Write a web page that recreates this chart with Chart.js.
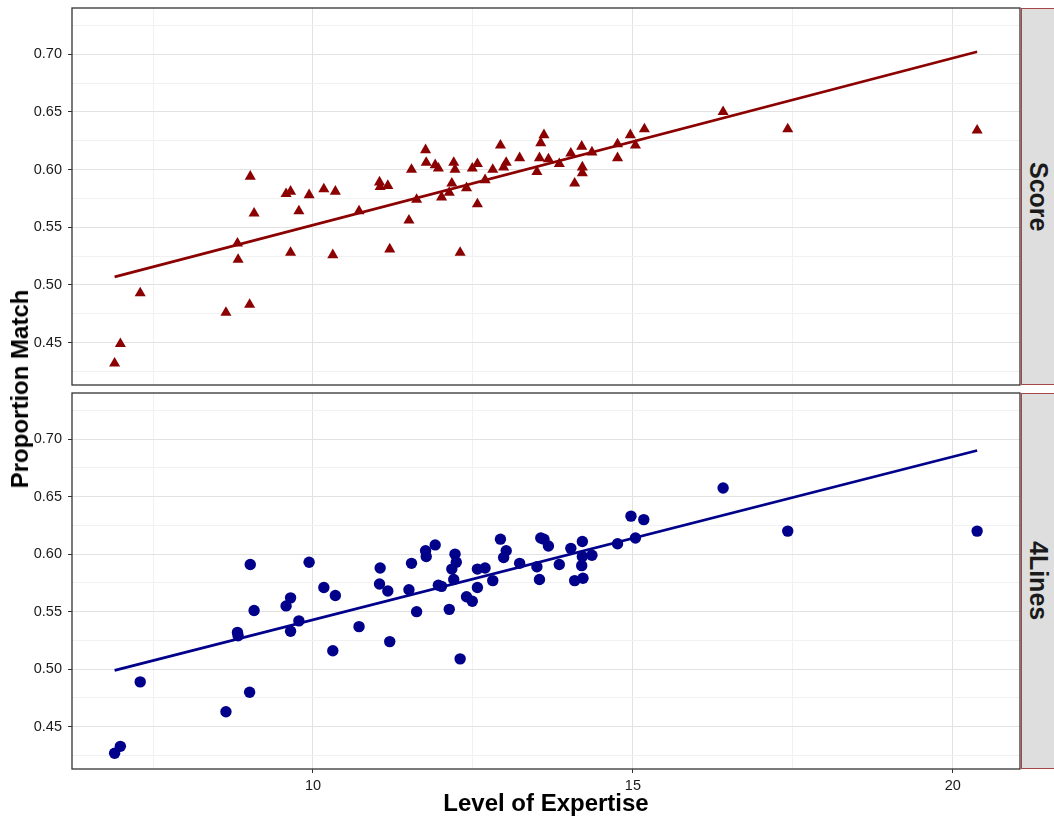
<!DOCTYPE html>
<html>
<head>
<meta charset="utf-8">
<script src="https://cdn.jsdelivr.net/npm/chart.js@4/dist/chart.umd.min.js"></script>
<style>
html,body{margin:0;padding:0;background:#fff;width:1054px;height:819px;overflow:hidden;font-family:"Liberation Sans",Arial,sans-serif;}
.cv{position:absolute;left:0;}
.strip{position:absolute;left:1021px;width:34px;background:#dedede;border:1px solid rgba(150,20,20,0.75);box-sizing:border-box;display:flex;align-items:center;justify-content:center;}
.strip span{writing-mode:vertical-rl;font-weight:bold;font-size:25px;color:#1a1a1a;}
#ytitle{position:absolute;left:20px;top:389px;transform:translate(-50%,-50%) rotate(-90deg);font-weight:bold;font-size:24px;white-space:nowrap;color:#000;}
</style>
</head>
<body>
<div class="cv" style="top:0px;width:1022px;height:386px;"><canvas id="top" width="1022" height="386"></canvas></div>
<div class="cv" style="top:386px;width:1022px;height:433px;"><canvas id="bottom" width="1022" height="433"></canvas></div>
<div class="strip" style="top:8px;height:377px;"><span>Score</span></div>
<div class="strip" style="top:393px;height:376px;"><span>4Lines</span></div>
<div id="ytitle">Proportion Match</div>
<script>
// ---- data ----
const panelNames = ["Score", "4Lines"];
const xTitle = "Level of Expertise";
const yTitle = "Proportion Match";

const scoreX = [6.90, 6.99, 7.30, 8.64, 9.01, 9.02, 9.08, 8.82, 8.83, 9.58, 9.65, 9.65, 9.78, 9.94, 10.17, 10.35, 10.31, 10.72,
  11.04, 11.05, 11.17, 11.20, 11.50, 11.54, 11.62, 11.76, 11.77, 11.91, 11.96, 12.01, 12.13, 12.17, 12.20, 12.22, 12.30,
  12.40, 12.49, 12.57, 12.57, 12.69, 12.81, 12.93, 12.98, 13.02, 13.23, 13.50, 13.54, 13.56, 13.61, 13.68, 13.85, 14.03,
  14.09, 14.20, 14.21, 14.21, 14.36, 14.76, 14.76, 14.96, 15.04, 15.18, 16.41, 17.42, 20.38];
const scoreY = [0.432, 0.449, 0.493, 0.476, 0.483, 0.594, 0.562, 0.536, 0.522, 0.579, 0.581, 0.528, 0.564, 0.578, 0.583, 0.581, 0.526, 0.564,
  0.589, 0.585, 0.586, 0.531, 0.556, 0.600, 0.574, 0.617, 0.606, 0.604, 0.601, 0.576, 0.580, 0.588, 0.606, 0.600, 0.528,
  0.584, 0.601, 0.570, 0.605, 0.591, 0.600, 0.621, 0.602, 0.606, 0.610, 0.598, 0.610, 0.623, 0.630, 0.609, 0.605, 0.614,
  0.588, 0.620, 0.602, 0.597, 0.615, 0.622, 0.610, 0.630, 0.621, 0.635, 0.650, 0.635, 0.634];

const linesX = [6.90, 6.99, 7.30, 8.64, 9.01, 9.02, 9.08, 8.82, 8.83, 9.58, 9.65, 9.65, 9.78, 9.94, 10.17, 10.35, 10.31, 10.72,
  11.05, 11.04, 11.17, 11.20, 11.62, 11.50, 11.54, 11.76, 11.77, 11.91, 11.96, 12.01, 12.13, 12.30, 12.20, 12.17, 12.24, 12.22,
  12.40, 12.49, 12.57, 12.57, 12.69, 12.81, 12.93, 13.02, 12.98, 13.23, 13.50, 13.54, 13.56, 13.61, 13.68, 13.85, 14.03,
  14.09, 14.22, 14.21, 14.21, 14.20, 14.36, 14.76, 14.97, 15.17, 15.04, 16.41, 17.42, 20.38];
const linesY = [0.427, 0.433, 0.489, 0.463, 0.480, 0.591, 0.551, 0.532, 0.529, 0.555, 0.562, 0.533, 0.542, 0.593, 0.571, 0.564, 0.516, 0.537,
  0.588, 0.574, 0.568, 0.524, 0.550, 0.569, 0.592, 0.603, 0.598, 0.608, 0.573, 0.572, 0.552, 0.509, 0.578, 0.587, 0.593, 0.600,
  0.563, 0.559, 0.571, 0.587, 0.588, 0.577, 0.613, 0.603, 0.597, 0.592, 0.589, 0.578, 0.614, 0.613, 0.607, 0.591, 0.605,
  0.577, 0.579, 0.611, 0.598, 0.590, 0.599, 0.609, 0.633, 0.630, 0.614, 0.6575, 0.620, 0.620];

// fitted regression lines (endpoints)
const scoreFitX = [6.90, 20.38];
const scoreFitY = [0.507, 0.702];
const linesFitX = [6.90, 20.38];
const linesFitY = [0.499, 0.690];

const xTickValues = [7.5, 10, 12.5, 15, 17.5, 20];
const xTickLabels = ["", "10", "", "15", "", "20"];
const yTickValues = [0.425, 0.45, 0.475, 0.50, 0.525, 0.55, 0.575, 0.60, 0.625, 0.65, 0.675, 0.70, 0.725];
const yTickLabels = ["", "0.45", "", "0.50", "", "0.55", "", "0.60", "", "0.65", "", "0.70", ""];

// ---- drawing ----
const FONT = '"Liberation Sans", Arial, Helvetica, sans-serif';
Chart.defaults.font.family = FONT;

const panelBorder = {
  id: 'panelBorder',
  afterDraw(chart) {
    const {ctx, chartArea: a} = chart;
    ctx.save();
    ctx.strokeStyle = '#333333';
    ctx.lineWidth = 1.3;
    ctx.strokeRect(a.left, a.top, a.right - a.left, a.bottom - a.top);
    ctx.restore();
  }
};

function isMajorIdx(labels, ctx) {
  const i = ctx && ctx.index;
  return i !== undefined && labels[i] !== undefined && labels[i] !== "";
}

function noPad(s) {
  s.paddingTop = 0; s.paddingBottom = 0; s.paddingLeft = 0; s.paddingRight = 0;
}

function makePanel(id, xs, ys, fx, fy, color, style, radius, showX, pad) {
  const pts = xs.map((x, i) => ({x: x, y: ys[i]}));
  const fit = fx.map((x, i) => ({x: x, y: fy[i]}));
  return new Chart(document.getElementById(id), {
    type: 'scatter',
    data: {
      datasets: [
        {data: pts, pointStyle: style, pointRadius: radius, pointHoverRadius: radius,
         backgroundColor: color, borderColor: color, borderWidth: 0},
        {type: 'line', data: fit, borderColor: color, borderWidth: 2.6, pointRadius: 0,
         fill: false, tension: 0}
      ]
    },
    options: {
      responsive: false, animation: false, devicePixelRatio: 1,
      layout: {padding: pad, autoPadding: false},
      plugins: {legend: {display: false}, tooltip: {enabled: false}},
      scales: {
        x: {
          type: 'linear', min: 6.234, max: 21.05,
          afterBuildTicks: s => { s.ticks = xTickValues.map(v => ({value: v})); },
          afterFit: s => { s.height = showX ? 50 : 0; noPad(s); },
          border: {display: false},
          grid: {
            color: c => isMajorIdx(xTickLabels, c) ? '#e2e2e2' : '#f1f1f1',
            lineWidth: 1,
            drawTicks: showX, tickLength: 4,
            tickColor: c => isMajorIdx(xTickLabels, c) ? '#333333' : 'rgba(0,0,0,0)'
          },
          ticks: {display: showX, autoSkip: false, maxRotation: 0, padding: 4,
                  color: '#1a1a1a', font: {size: 14.5},
                  callback: (v, i) => xTickLabels[i]},
          title: {display: showX, text: xTitle, color: '#000',
                  font: {size: 24, weight: 'bold'}, padding: {top: 0, bottom: 0}}
        },
        y: {
          type: 'linear', min: 0.4133, max: 0.7400,
          afterBuildTicks: s => { s.ticks = yTickValues.map(v => ({value: v})); },
          afterFit: s => { s.width = 72; noPad(s); },
          border: {display: false},
          grid: {
            color: c => isMajorIdx(yTickLabels, c) ? '#e2e2e2' : '#f1f1f1',
            lineWidth: 1,
            drawTicks: true, tickLength: 4,
            tickColor: c => isMajorIdx(yTickLabels, c) ? '#333333' : 'rgba(0,0,0,0)'
          },
          ticks: {autoSkip: false, padding: 6, color: '#1a1a1a', font: {size: 14.5},
                  callback: (v, i) => yTickLabels[i]}
        }
      }
    },
    plugins: [panelBorder]
  });
}

makePanel('top', scoreX, scoreY, scoreFitX, scoreFitY, '#8b0000', 'triangle', 6.4, false,
  {left: 0, top: 8, right: 2, bottom: 1});
makePanel('bottom', linesX, linesY, linesFitX, linesFitY, '#00008b', 'circle', 5.7, true,
  {left: 0, top: 7, right: 2, bottom: 0});
</script>
</body>
</html>
